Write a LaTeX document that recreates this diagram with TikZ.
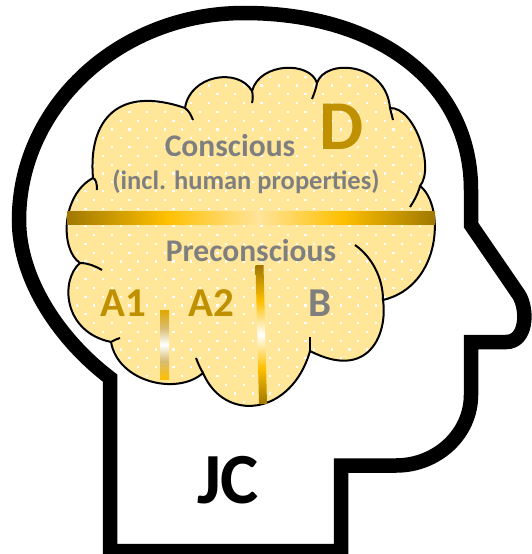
\documentclass[tikz,border=0pt]{standalone}
\usepackage{fontspec}
\setmainfont{Carlito}
\definecolor{cloudfill}{HTML}{FFE699}
\definecolor{txtgray}{HTML}{7F7F7F}
\definecolor{txtgold}{HTML}{BF9000}
\definecolor{gdark}{HTML}{A07800}
\definecolor{ggold}{HTML}{FFC000}
\definecolor{gpale}{HTML}{FFE49A}
\definecolor{gmid}{HTML}{E0A800}
\definecolor{gbeige}{HTML}{D9BC70}
% golden bars: the path's box spans 25bp..75bp of each shading
\pgfdeclarehorizontalshading{goldbarh}{100bp}{color(0bp)=(gdark); color(25bp)=(gdark); color(38.5bp)=(ggold); color(51bp)=(gpale); color(62.5bp)=(ggold); color(75bp)=(gdark); color(100bp)=(gdark)}
\pgfdeclareverticalshading{goldbarshort}{100bp}{color(0bp)=(ggold); color(25bp)=(ggold); color(38bp)=(gbeige); color(50bp)=(white); color(62bp)=(gbeige); color(75bp)=(gmid); color(100bp)=(gmid)}
\pgfdeclareverticalshading{goldbarlong}{100bp}{color(0bp)=(gdark); color(25bp)=(gdark); color(38bp)=(ggold); color(50bp)=(white); color(62bp)=(ggold); color(75bp)=(gdark); color(100bp)=(gdark)}
% outline of the brain cloud
\newcommand\brainoutline{(93,178)
 .. controls (88,120) and (118,85) .. (185,108)
 .. controls (190,75) and (238,67) .. (252,91)
 .. controls (260,62) and (310,61) .. (317,83)
 .. controls (325,58) and (386,62) .. (390,108)
 .. controls (415,107) and (435,168) .. (420,186)
 .. controls (445,205) and (442,286) .. (383,300)
 .. controls (388,335) and (368,381) .. (310,351)
 .. controls (292,415) and (225,424) .. (203,373)
 .. controls (177,396) and (118,382) .. (111,342)
 .. controls (63,332) and (60,280) .. (80,263)
 .. controls (60,250) and (61,195) .. (93,178) -- cycle}
\begin{document}
\begin{tikzpicture}[x=1pt,y=-1pt,
  headline/.style={line width=14.5pt,black},
  cloudline/.style={line width=2pt,black},
  label/.style={inner sep=0pt,anchor=base,font=\bfseries},
  graylabel/.style={label,text=txtgray},
  goldlabel/.style={label,text=txtgold}]
\useasboundingbox (0,0) rectangle (531,554);
\fill[white] (0,0) rectangle (531,554);

% head silhouette
\draw[headline] (110,378)
  .. controls (60,340) and (19,280) .. (19,220)
  .. controls (19,106) and (120,13) .. (244,13)
  .. controls (380,13) and (471,84) .. (471,190)
  -- (471,225) -- (519,295)
  .. controls (528,310) and (527,342) .. (506,342)
  -- (471,342) -- (471,395)
  .. controls (471,434) and (437,465.5) .. (396,465.5)
  -- (341,465.5) -- (341,551) -- (110,551) -- cycle;

% brain cloud with white dot texture
\begin{scope}
  \fill[cloudfill] \brainoutline;
  \clip \brainoutline;
  \foreach \r in {0,...,40}{
    \foreach \c in {0,...,22}{
      \pgfmathsetmacro{\dx}{58+17.6*\c+8.8*mod(\r,2)}
      \pgfmathsetmacro{\dy}{58+8.8*\r}
      \fill[white] (\dx,\dy) rectangle ++(2.2,2.2);
    }
  }
\end{scope}
\draw[cloudline] \brainoutline;

% inner arcs of the cloud
\draw[cloudline] (93,178) .. controls (96,179) and (97,184) .. (97,190);
\draw[cloudline] (185,108) .. controls (189,111) and (191,115) .. (193,120);
\draw[cloudline] (252,91) .. controls (253,95) and (253,99) .. (252,103);
\draw[cloudline] (317,83) .. controls (316,89) and (314,94) .. (312,99);
\draw[cloudline] (390,108) .. controls (391,112) and (392,116) .. (393,120);
\draw[cloudline] (420,186) .. controls (418,194) and (414,201) .. (410,207);
\draw[cloudline] (355,245) .. controls (372,257) and (383,278) .. (383,300);
\draw[cloudline] (310,351) .. controls (310,346) and (310,342) .. (310,337);
\draw[cloudline] (203,373) .. controls (200,368) and (198,363) .. (196,358);
\draw[cloudline] (111,342) .. controls (114,340) and (117,339) .. (120,338);
\draw[cloudline] (80,263) .. controls (88,263) and (95,266) .. (102,270);

% golden dividing bars
\shade[shading=goldbarh] (67,211) rectangle (435,224);
\shade[shading=goldbarshort] (160,310) rectangle (169,379);
\shade[shading=goldbarlong] (255.5,265) -- (263.5,265) -- (267,404) -- (259,404) -- cycle;

% labels
\node[graylabel,font=\bfseries\fontsize{31.5}{36}\selectfont] (conscious) at (230,156) {Conscious};
\node[graylabel,font=\bfseries\fontsize{26.5}{30}\selectfont] (incl) at (246,189) {(incl. human properties)};
\node[goldlabel,font=\bfseries\fontsize{70}{80}\selectfont] (d) at (342,149) {D};
\node[graylabel,font=\bfseries\fontsize{31.5}{36}\selectfont] (precon) at (251,261) {Preconscious};
\node[goldlabel,font=\bfseries\fontsize{41}{48}\selectfont] (aone) at (123,316) {A1};
\node[goldlabel,font=\bfseries\fontsize{41}{48}\selectfont] (atwo) at (211,316) {A2};
\node[graylabel,font=\bfseries\fontsize{41}{48}\selectfont] (b) at (319.5,316) {B};
\node[label,text=black,font=\bfseries\fontsize{72}{80}\selectfont] (jc) at (228,503) {JC};
\end{tikzpicture}
\end{document}
